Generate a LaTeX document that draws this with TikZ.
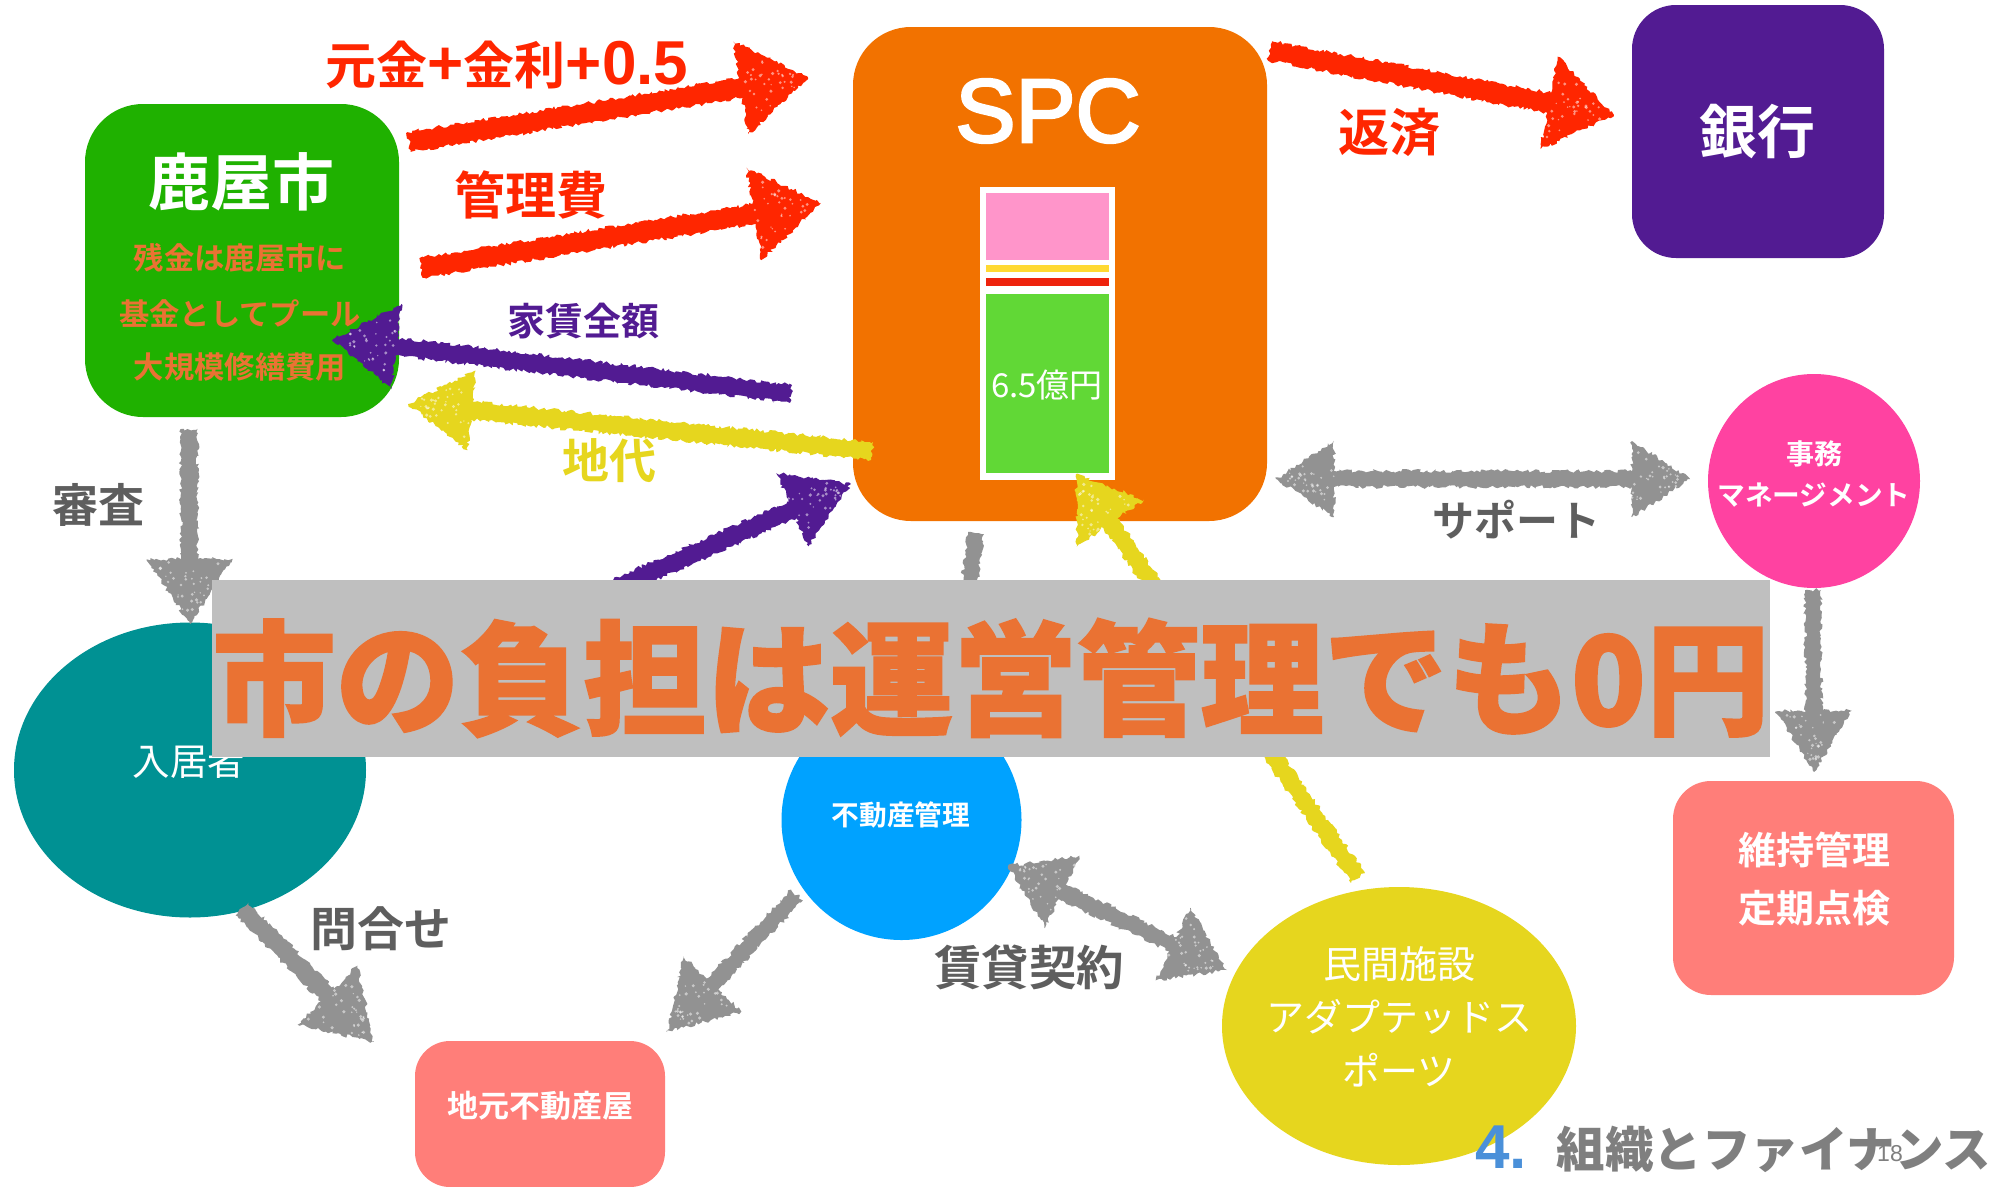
\documentclass[tikz,border=0pt]{standalone}
\usepackage{fontspec}
\usetikzlibrary{calc,decorations.pathmorphing,shapes.geometric}
\newfontfamily\cjkr{Noto Sans CJK JP}
\newfontfamily\cjkb{Noto Sans CJK JP Bold}
\newfontfamily\cjkh{Noto Sans CJK JP Black}
\newfontfamily\cjkhh[FakeBold=1.5]{Noto Sans CJK JP Black}
\newfontfamily\latb{Liberation Sans Bold}
\newfontfamily\latr{Liberation Sans}
\newfontfamily\latm[FakeBold=3]{Liberation Sans}
\definecolor{cGreen}{HTML}{1FB100}
\definecolor{cOrange}{HTML}{F27200}
\definecolor{cPurple}{HTML}{521B92}
\definecolor{cPink}{HTML}{FF42A1}
\definecolor{cBarPink}{HTML}{FF95CA}
\definecolor{cBarYellow}{HTML}{FFD932}
\definecolor{cBarRed}{HTML}{EE220C}
\definecolor{cBarGreen}{HTML}{61D836}
\definecolor{cTeal}{HTML}{009193}
\definecolor{cBlue}{HTML}{00A2FF}
\definecolor{cYellow}{HTML}{E6D61E}
\definecolor{cSalmon}{HTML}{FF7E79}
\definecolor{cRed}{HTML}{FF2600}
\definecolor{cArrow}{HTML}{929292}
\definecolor{cText}{HTML}{5E5E5E}
\definecolor{cBanner}{HTML}{BFBFBF}
\definecolor{cBannerText}{HTML}{EA7233}
\definecolor{cFoot}{HTML}{7F7F7F}
\definecolor{cNum}{HTML}{4A90D9}
\tikzset{
  lab/.style={inner sep=0pt,outer sep=0pt,anchor=center},
  fb/.style={lab,font=\cjkb\fontsize{#1}{#1}\selectfont},
  fr/.style={lab,font=\cjkr\fontsize{#1}{#1}\selectfont},
  roundbox/.style={inner sep=0pt,outer sep=0pt,rectangle,anchor=north west},
  oval/.style={inner sep=0pt,outer sep=0pt,fill=#1,ellipse},
  chalkedge/.style={decorate,decoration={random steps,segment length=2.6pt,amplitude=1.9pt}},
}
\pgfmathsetseed{4711}
% chalk grain inside a head: base point, tip, head length, half head width
\newcommand\chalkspecks[4]{%
  \foreach \ci in {1,...,34}{%
    \pgfmathsetmacro\ca{rnd*0.8}%
    \pgfmathsetmacro\cb{(2*rnd-1)*(1-\ca)*0.8*#4}%
    \pgfmathsetmacro\cl{\ca*#3}%
    \pgfmathsetmacro\cr{0.7+rnd*1.1}%
    \fill[white,opacity=.5] ($($(#1)!\cl pt!(#2)$)!\cb pt!90:(#2)$) circle (\cr pt);
  }%
}
% single-headed chalk arrow: start, end, colour, half shaft, head length, half head width
\newcommand\chalkarrow[6]{%
  \coordinate (chH) at ($(#2)!#5pt!(#1)$);
  \fill[#3,chalkedge]
    ($(#1)!#4pt!90:(#2)$) -- ($(chH)!#4pt!90:(#2)$) -- ($(chH)!#6pt!90:(#2)$) -- (#2)
    -- ($(chH)!#6pt!-90:(#2)$) -- ($(chH)!#4pt!-90:(#2)$) -- ($(#1)!#4pt!-90:(#2)$) -- cycle;
  \chalkspecks{chH}{#2}{#5}{#6}
}
% double-headed chalk arrow
\newcommand\chalkdouble[6]{%
  \coordinate (chH) at ($(#2)!#5pt!(#1)$);
  \coordinate (chT) at ($(#1)!#5pt!(#2)$);
  \fill[#3,chalkedge]
    (#1) -- ($(chT)!#6pt!-90:(#2)$) -- ($(chT)!#4pt!-90:(#2)$)
    -- ($(chH)!#4pt!-90:(#2)$) -- ($(chH)!#6pt!-90:(#2)$) -- (#2)
    -- ($(chH)!#6pt!90:(#2)$) -- ($(chH)!#4pt!90:(#2)$)
    -- ($(chT)!#4pt!90:(#2)$) -- ($(chT)!#6pt!90:(#2)$) -- cycle;
  \chalkspecks{chH}{#2}{#5}{#6}
  \chalkspecks{chT}{#1}{#5}{#6}
}
\begin{document}
\begin{tikzpicture}[x=1pt,y=-1pt]
\useasboundingbox (0,0) rectangle (2013,1186);
\fill[white] (0,0) rectangle (2013,1186);

% boxes
\node[roundbox,fill=cGreen,rounded corners=58pt,minimum width=314pt,minimum height=313pt] (city) at (85,104) {};
\node[roundbox,fill=cOrange,rounded corners=58pt,minimum width=414pt,minimum height=494pt] (spc) at (853,27) {};
\node[roundbox,fill=cPurple,rounded corners=44pt,minimum width=252pt,minimum height=253pt] (bank) at (1632,5) {};
\node[oval=cPink,minimum width=212pt,minimum height=214pt] (jimu) at (1814,481) {};
\node[oval=cTeal,minimum width=352pt,minimum height=295pt] (tenant) at (190,770) {};
\node[oval=cBlue,minimum width=240pt,minimum height=240pt] (fudosan) at (901.5,820) {};
\node[oval=cYellow,minimum width=354pt,minimum height=278pt] (minkan) at (1399,1026) {};
\node[roundbox,fill=cSalmon,rounded corners=38pt,minimum width=281pt,minimum height=214pt] (iji) at (1673,781) {};
\node[roundbox,fill=cSalmon,rounded corners=35pt,minimum width=250pt,minimum height=146pt] (jimoto) at (415,1041) {};

% stacked bar
\node[roundbox,fill=white,minimum width=135pt,minimum height=293pt] (bar) at (980,187) {};
\node[roundbox,fill=cBarPink,minimum width=123pt,minimum height=67pt] (barP) at (986,193) {};
\node[roundbox,fill=cBarYellow,minimum width=123pt,minimum height=7pt] (barY) at (986,265) {};
\node[roundbox,fill=cBarRed,minimum width=123pt,minimum height=8pt] (barR) at (986,278) {};
\node[roundbox,fill=cBarGreen,minimum width=123pt,minimum height=179pt] (barG) at (986,294) {};

% labels in nodes
\node[lab,white,font=\latm\fontsize{90}{90}\selectfont] (tspc) at (1048,111) {SPC};
\node[fr=33,white] (t65) at (1047,385) {6.5億円};
\node[fb=58,white] (tbank) at (1757,132) {銀行};
\node[fb=62,white] (tcity) at (241,182) {鹿屋市};
\node[fb=30.3,cBannerText] (tc1) at (240,258) {残金は鹿屋市に};
\node[fb=30.3,cBannerText] (tc2) at (240,314) {基金としてプール};
\node[fb=30.3,cBannerText] (tc3) at (240,367) {大規模修繕費用};
\node[fb=28,white] (tj1) at (1814,454) {事務};
\node[fb=27.7,white] (tj2) at (1814,495) {マネージメント};
\node[fr=37.5,white] (tten) at (189,761) {入居者};
\node[fb=27.7,white] (tfu) at (901,815) {不動産管理};
\node[fr=38,white] (tm1) at (1399,964) {民間施設};
\node[fr=38,white] (tm2) at (1399,1017) {アダプテッドス};
\node[fr=38,white] (tm3) at (1399,1070) {ポーツ};
\node[fb=38,white] (ti1) at (1814,850) {維持管理};
\node[fb=38,white] (ti2) at (1814,908) {定期点検};
\node[fb=31,white] (tjm) at (540,1106) {地元不動産屋};

% edge labels
\node[fb=51,cRed] (l1) at (507,65) {元金{\latb\fontsize{62}{62}\selectfont +}金利{\latb\fontsize{62}{62}\selectfont +0.5}};
\node[fb=51,cRed] (l2) at (531,195) {管理費};
\node[fb=38,cPurple] (l3) at (583,321) {家賃全額};
\node[fb=47,cYellow] (l4) at (609,461) {地代};
\node[fb=51,cRed] (l5) at (1389,132) {返済};
\node[fb=42,cText] (l6) at (1516,520) {サポート};
\node[fb=46,cText] (l7) at (98,505) {審査};
\node[fb=47,cText] (l8) at (381,929) {問合せ};
\node[fb=47.5,cText] (l9) at (1029,967) {賃貸契約};

% connector ends
\coordinate (a1s) at (409,142);   \coordinate (a1e) at (808,77);
\coordinate (a2s) at (421,268);   \coordinate (a2e) at (821,203);
\coordinate (a3s) at (791,394);   \coordinate (a3e) at (333,339);
\coordinate (a4s) at (872,451);   \coordinate (a4e) at (408,404);
\coordinate (a5s) at (520,630);   \coordinate (a5e) at (851,484);
\coordinate (a6s) at (189,429);   \coordinate (a6e) at (190,624);
\coordinate (a7s) at (242,909);   \coordinate (a7e) at (374,1042);
\coordinate (a8s) at (797,895);   \coordinate (a8e) at (667,1032);
\coordinate (a9s) at (1008,866);  \coordinate (a9e) at (1227,970);
\coordinate (a10s) at (1358,878); \coordinate (a10e) at (1076,474);
\coordinate (a11s) at (976,533);  \coordinate (a11e) at (948,745);
\coordinate (a12s) at (1270,51);  \coordinate (a12e) at (1614,115);
\coordinate (a13s) at (1276,479); \coordinate (a13e) at (1690,479);
\coordinate (a14s) at (1813,590); \coordinate (a14e) at (1814,772);

% connectors
\chalkarrow{a1s}{a1e}{cRed}{10}{68}{47}
\chalkarrow{a2s}{a2e}{cRed}{10}{68}{47}
\chalkarrow{a3s}{a3e}{cPurple}{9}{64}{43}
\chalkarrow{a4s}{a4e}{cYellow}{9}{64}{40}
\chalkarrow{a5s}{a5e}{cPurple}{9}{64}{40}
\chalkarrow{a6s}{a6e}{cArrow}{8.5}{65}{43}
\chalkarrow{a7s}{a7e}{cArrow}{9}{66}{42}
\chalkarrow{a8s}{a8e}{cArrow}{8}{66}{40}
\chalkdouble{a9s}{a9e}{cArrow}{8}{60}{40}
\chalkarrow{a10s}{a10e}{cYellow}{8.5}{60}{41}
\chalkarrow{a11s}{a11e}{cArrow}{8}{60}{38}
\chalkarrow{a12s}{a12e}{cRed}{10}{66}{47}
\chalkdouble{a13s}{a13e}{cArrow}{8}{58}{38}
\chalkarrow{a14s}{a14e}{cArrow}{8}{61}{38}

% banner
\node[roundbox,fill=cBanner,minimum width=1558pt,minimum height=177pt] (banner) at (212,580) {};
\node[lab,cBannerText,font=\cjkhh\fontsize{123.5}{123.5}\selectfont] (tbanner) at (991,678) {市の負担は運営管理でも0円};

% footer
\node[lab,cNum,font=\latb\fontsize{62}{62}\selectfont] (fnum) at (1501,1147) {4.};
\node[lab,cFoot,font=\cjkh\fontsize{48.5}{48.5}\selectfont] (ftitle) at (1774,1149) {組織とファイナンス};
\node[lab,cFoot,font=\latr\fontsize{23}{23}\selectfont] (fpage) at (1890,1154) {18};
\end{tikzpicture}
\end{document}
